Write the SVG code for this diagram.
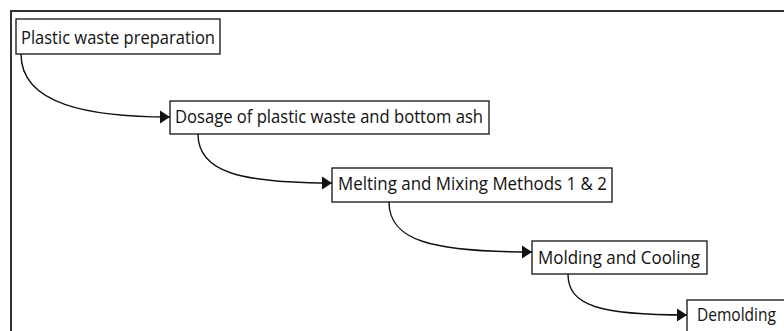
<svg xmlns="http://www.w3.org/2000/svg" width="784" height="331" viewBox="0 0 784 331">
<style>
.box{fill:#fff;stroke:#111;stroke-width:1.3}
.lbl{font-family:"Open Sans","Noto Sans",sans-serif;font-size:17.5px;fill:#111}
.conn{fill:none;stroke:#111;stroke-width:1.4}
</style>
<defs>
<marker id="ah" markerUnits="userSpaceOnUse" markerWidth="11" markerHeight="14" refX="10" refY="7" orient="auto">
<path d="M0,0.5 L10,7 L0,13.5 Z" fill="#111"/>
</marker>
</defs>
<rect x="0" y="0" width="784" height="331" fill="#fff"/>
<path d="M11,340 L11,11 L790,11" fill="none" stroke="#333" stroke-width="2"/>
<g id="connectors">
<path class="conn" d="M21,54 C21,105 90,117 170,117" marker-end="url(#ah)"/>
<path class="conn" d="M198,134 C198,172 240,183 332,183" marker-end="url(#ah)"/>
<path class="conn" d="M389,202 C389,240 430,252 532,252" marker-end="url(#ah)"/>
<path class="conn" d="M568,274 C568,306 600,315 687,315" marker-end="url(#ah)"/>
</g>
<g id="n1"><rect class="box" x="16" y="19" width="204" height="35"/><text class="lbl" x="21" y="44" textLength="194" lengthAdjust="spacingAndGlyphs">Plastic waste preparation</text></g>
<g id="n2"><rect class="box" x="170" y="101" width="319" height="33"/><text class="lbl" x="175" y="123" textLength="308" lengthAdjust="spacingAndGlyphs">Dosage of plastic waste and bottom ash</text></g>
<g id="n3"><rect class="box" x="332" y="168" width="280" height="34"/><text class="lbl" x="338" y="190" textLength="269" lengthAdjust="spacingAndGlyphs">Melting and Mixing Methods 1 &amp; 2</text></g>
<g id="n4"><rect class="box" x="532" y="241" width="175" height="33"/><text class="lbl" x="538" y="264" textLength="162" lengthAdjust="spacingAndGlyphs">Molding and Cooling</text></g>
<g id="n5"><rect class="box" x="687" y="300" width="110" height="45"/><text class="lbl" x="697" y="321" textLength="79" lengthAdjust="spacingAndGlyphs">Demolding</text></g>
</svg>
